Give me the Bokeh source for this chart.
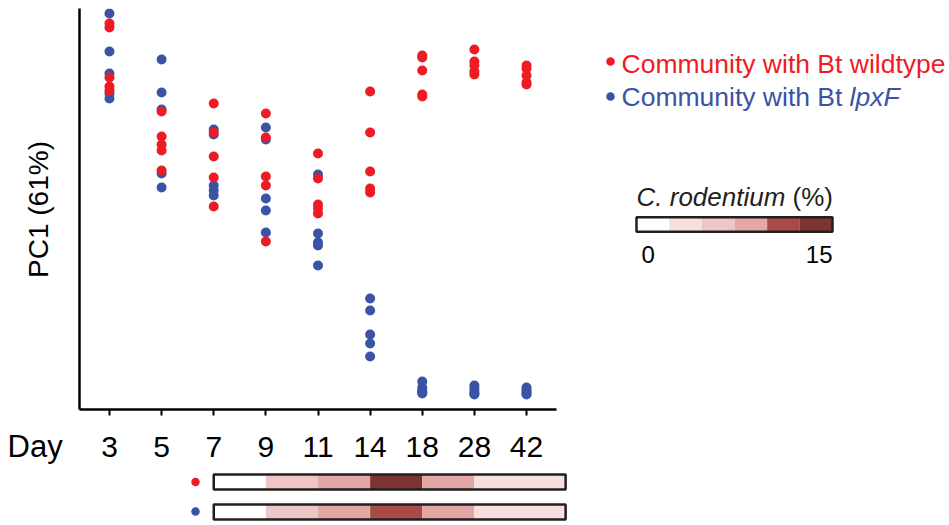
import math
from bokeh.plotting import figure
from bokeh.models import ColumnDataSource, FactorRange, Range1d, FixedTicker
from bokeh.layouts import row, column
from bokeh.transform import linear_cmap
from bokeh.core.properties import value
from bokeh.embed import file_html
from bokeh.resources import INLINE

# ---------------- data ----------------
days = ["3", "5", "7", "9", "11", "14", "18", "28", "42"]

# PC1 scores (arbitrary units), 5 mice per group per day
pc1_wildtype = {
    "3":  [17.7, 17.3, 12.3, 11.4, 11.0],
    "5":  [8.9, 6.4, 5.6, 5.0, 3.0],
    "7":  [9.7, 6.8, 4.4, 2.3, -0.6],
    "9":  [8.7, 6.3, 2.4, 1.5, -4.1],
    "11": [4.7, 2.2, -0.4, -0.8, -1.3],
    "14": [10.9, 6.8, 2.9, 1.2, 0.8],
    "18": [14.5, 14.3, 13.0, 10.6, 10.4],
    "28": [15.1, 13.9, 13.5, 12.9, 12.6],
    "42": [13.5, 13.2, 12.5, 11.8, 11.6],
}
pc1_lpxF = {
    "3":  [18.7, 14.9, 12.7, 10.7, 10.2],
    "5":  [14.1, 10.8, 9.1, 2.7, 1.3],
    "7":  [7.1, 6.6, 1.5, 1.0, 0.5],
    "9":  [7.3, 6.1, 0.2, -1.0, -3.2],
    "11": [2.6, -3.3, -4.2, -4.5, -6.5],
    "14": [-9.8, -11.0, -13.4, -14.3, -15.6],
    "18": [-18.1, -18.7, -19.0, -19.2, -19.3],
    "28": [-18.5, -18.8, -19.1, -19.3, -19.4],
    "42": [-18.7, -18.9, -19.1, -19.3, -19.4],
}

# C. rodentium abundance (%) per interval, intervals start at these days
crod_start_days = ["7", "9", "11", "14", "18", "28"]
crod_wildtype = [1, 6, 9, 14, 9, 4]
crod_lpxF = [1, 6, 9, 11, 9, 4]
crod_low, crod_high = 0, 15
crod_palette = ["#FFFFFF", "#F5E0DF", "#EDC6C5", "#E3A7A6", "#A84B47", "#7D3431"]

y_label = "PC1 (61%)"
x_label = "Day"
legend_wildtype = "Community with Bt wildtype"
legend_lpxF = ["Community with Bt ", "lpxF"]

# ---------------- style ----------------
RED = "#ED1C24"
BLUE = "#3A53A4"
INK = "#231F20"
FONT = "Liberation Sans"

# ---------------- layout constants (px) ----------------
TOTAL_W, TOTAL_H = 949, 525
LEFT_W = 70                      # panel holding the y label and "Day"
FRAME_L, FRAME_R, FRAME_T, FRAME_B = 9, 12, 8, 62
FRAME_W = 477
MAIN_W = FRAME_L + FRAME_W + FRAME_R
MAIN_H = FRAME_T + 401 + FRAME_B
SIDE_X = LEFT_W + MAIN_W
SIDE_W = TOTAL_W - SIDE_X
STRIP_H = TOTAL_H - MAIN_H
PAD = 0.075
PX_PER_DAY = FRAME_W / (len(days) + 2 * PAD)
DAY0_PX = LEFT_W + FRAME_L + (0.5 + PAD) * PX_PER_DAY   # page x of the first day


def blank(fig):
    fig.outline_line_color = None
    fig.grid.visible = False
    return fig


TXT = dict(text_font=value(FONT), text_baseline="middle")

# ---------------- left panel: axis titles ----------------
L = blank(figure(width=LEFT_W, height=TOTAL_H, x_range=Range1d(0, LEFT_W), y_range=Range1d(TOTAL_H, 0),
                 output_backend="svg", toolbar_location=None, min_border=0,
                 x_axis_location=None, y_axis_location=None))
L.text(x=[38], y=[209], text=[y_label], angle=math.pi / 2, text_align="center",
       text_font_size=value("28px"), text_color="black", **TXT)
L.text(x=[7], y=[445.5], text=[x_label], text_align="left",
       text_font_size=value("31px"), text_color="black", **TXT)

# ---------------- main scatter ----------------
p = blank(figure(width=MAIN_W, height=MAIN_H,
                 x_range=FactorRange(factors=days, range_padding=PAD, range_padding_units="absolute"),
                 y_range=Range1d(-20.9, 19.2),
                 output_backend="svg", toolbar_location=None,
                 min_border_left=FRAME_L, min_border_right=FRAME_R,
                 min_border_top=FRAME_T, min_border_bottom=FRAME_B))


def flat(d):
    xs, ys = [], []
    for day in days:
        for v in d[day]:
            xs.append(day)
            ys.append(v)
    return ColumnDataSource(dict(day=xs, pc1=ys))


p.scatter(x="day", y="pc1", source=flat(pc1_lpxF), size=10, fill_color=BLUE, line_color=None)
p.scatter(x="day", y="pc1", source=flat(pc1_wildtype), size=10, fill_color=RED, line_color=None)

xa = p.xaxis[0]
xa.axis_line_width = 2.5
xa.axis_line_color = "black"
xa.major_tick_line_width = 2
xa.major_tick_line_color = "black"
xa.major_tick_out = 6
xa.major_tick_in = 0
xa.minor_tick_line_color = None
xa.major_label_text_font = FONT
xa.major_label_text_font_size = "30px"
xa.major_label_text_color = "black"
xa.major_label_standoff = 21

ya = p.yaxis[0]
ya.ticker = FixedTicker(ticks=[])
ya.axis_line_width = 2.5
ya.axis_line_color = "black"
ya.major_tick_out = 0
ya.major_tick_in = 0
ya.minor_tick_out = 0
ya.minor_tick_in = 0
ya.major_label_standoff = 0

# ---------------- bottom strips ----------------
bx0 = (LEFT_W - DAY0_PX) / PX_PER_DAY
bx1 = bx0 + MAIN_W / PX_PER_DAY
b = blank(figure(width=MAIN_W, height=STRIP_H, x_range=Range1d(bx0, bx1),
                 y_range=Range1d(TOTAL_H, MAIN_H),
                 output_backend="svg", toolbar_location=None, min_border=0,
                 x_axis_location=None, y_axis_location=None))

lefts = [days.index(d) for d in crod_start_days]
rights = lefts[1:] + [len(days) - 1 + 0.75]
strip_rows = [(crod_wildtype, 474, 489, RED, 481.5), (crod_lpxF, 504, 519, BLUE, 511)]
for vals, top, bot, col, cy in strip_rows:
    src = ColumnDataSource(dict(left=lefts, right=rights, crod=vals))
    b.quad(left="left", right="right", top=top, bottom=bot, source=src,
           fill_color=linear_cmap("crod", crod_palette, crod_low, crod_high), line_color=None)
    b.quad(left=[lefts[0]], right=[rights[-1]], top=[top], bottom=[bot],
           fill_color=None, line_color=INK, line_width=2.5)
    b.scatter(x=[(195 - DAY0_PX) / PX_PER_DAY], y=[cy], size=8.5, fill_color=col, line_color=None)

# ---------------- side panel: legend + colour key ----------------
CB_LEFT_PX, CB_W_PX = 636 - SIDE_X, 196
PX_PER_PCT = CB_W_PX / (crod_high - crod_low)
sx0 = crod_low - CB_LEFT_PX / PX_PER_PCT
sx1 = sx0 + SIDE_W / PX_PER_PCT


def to_pct(page_x):
    return sx0 + (page_x - SIDE_X) / PX_PER_PCT


s = blank(figure(width=SIDE_W, height=TOTAL_H, x_range=Range1d(sx0, sx1), y_range=Range1d(TOTAL_H, 0),
                 output_backend="svg", toolbar_location=None, min_border=0,
                 x_axis_location=None, y_axis_location=None))

# legend
s.scatter(x=[to_pct(610), to_pct(610)], y=[61, 96], size=8.5, fill_color=[RED, BLUE], line_color=None)
s.text(x=[to_pct(621)], y=[63.5], text=[legend_wildtype], text_font_size=value("26.5px"),
       text_color=RED, text_align="left", **TXT)
s.text(x=[to_pct(621)], y=[96.5], text=[legend_lpxF[0]], text_font_size=value("26.5px"),
       text_color=BLUE, text_align="left", **TXT)
s.text(x=[to_pct(621)], y=[96.5], text=[legend_lpxF[1]], x_offset=228, text_font_size=value("26.5px"),
       text_font_style="italic", text_color=BLUE, text_align="left", **TXT)

# colour key
n = len(crod_palette)
step = (crod_high - crod_low) / n
centers = [crod_low + step * (i + 0.5) for i in range(n)]
s.rect(x=centers, y=224, width=step, height=14.5,
       fill_color=linear_cmap("x", crod_palette, crod_low, crod_high), line_color=None)
s.rect(x=[(crod_low + crod_high) / 2], y=[224], width=crod_high - crod_low, height=14.5,
       fill_color=None, line_color=INK, line_width=2.5)
s.text(x=[crod_low], y=[196.5], text=["C. rodentium"], text_font_size=value("26px"),
       text_font_style="italic", text_color=INK, text_align="left", **TXT)
s.text(x=[crod_low], y=[196.5], text=["(%)"], x_offset=156, text_font_size=value("26px"),
       text_color=INK, text_align="left", **TXT)
s.text(x=[crod_low], y=[253.5], text=[str(crod_low)], x_offset=5, text_font_size=value("24px"),
       text_color="black", text_align="left", **TXT)
s.text(x=[crod_high], y=[253.5], text=[str(crod_high)], text_font_size=value("24px"),
       text_color="black", text_align="right", **TXT)

layout = row(L, column(p, row(b)), s)
open("out.html", "w").write(file_html(layout, INLINE))
